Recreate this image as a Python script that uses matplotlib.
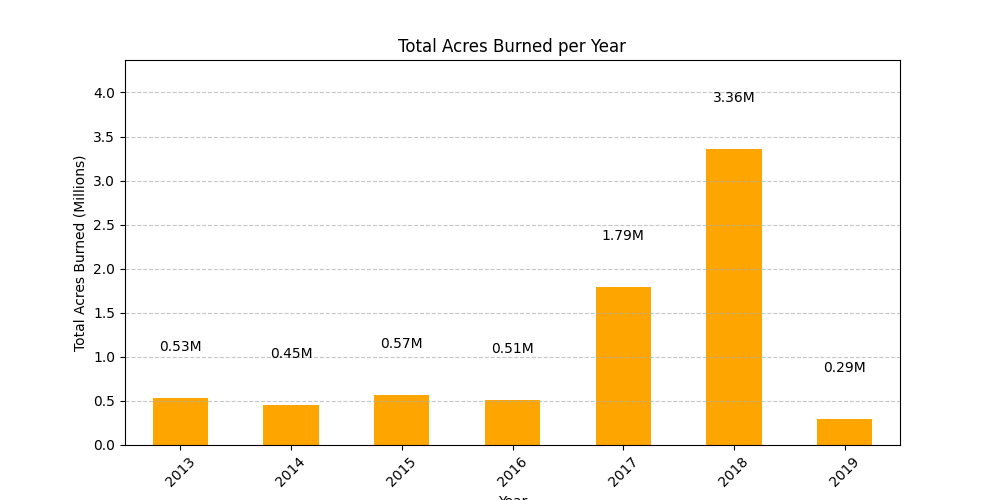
import matplotlib
matplotlib.use("Agg")
import matplotlib.pyplot as plt
import numpy as np

# yearly totals (millions of acres)
years = ["2013", "2014", "2015", "2016", "2017", "2018", "2019"]
acres_millions = [0.53, 0.45, 0.57, 0.51, 1.79, 3.36, 0.29]

fig, ax = plt.subplots(figsize=(10, 5), dpi=100)

x = np.arange(len(years))
ax.bar(x, acres_millions, width=0.5, color="orange")
ax.set_xlim(-0.5, len(years) - 0.5)
ax.set_ylim(0, max(acres_millions) * 1.3)

for xi, v in zip(x, acres_millions):
    ax.text(xi, v + 0.5, f"{v:.2f}M", ha="center", va="bottom")

ax.set_xticks(x)
ax.set_xticklabels(years, rotation=45)
ax.set_title("Total Acres Burned per Year")
ax.set_xlabel("Year")
ax.set_ylabel("Total Acres Burned (Millions)")
ax.grid(axis="y", linestyle="--", alpha=0.7)

fig.savefig("out.png")
